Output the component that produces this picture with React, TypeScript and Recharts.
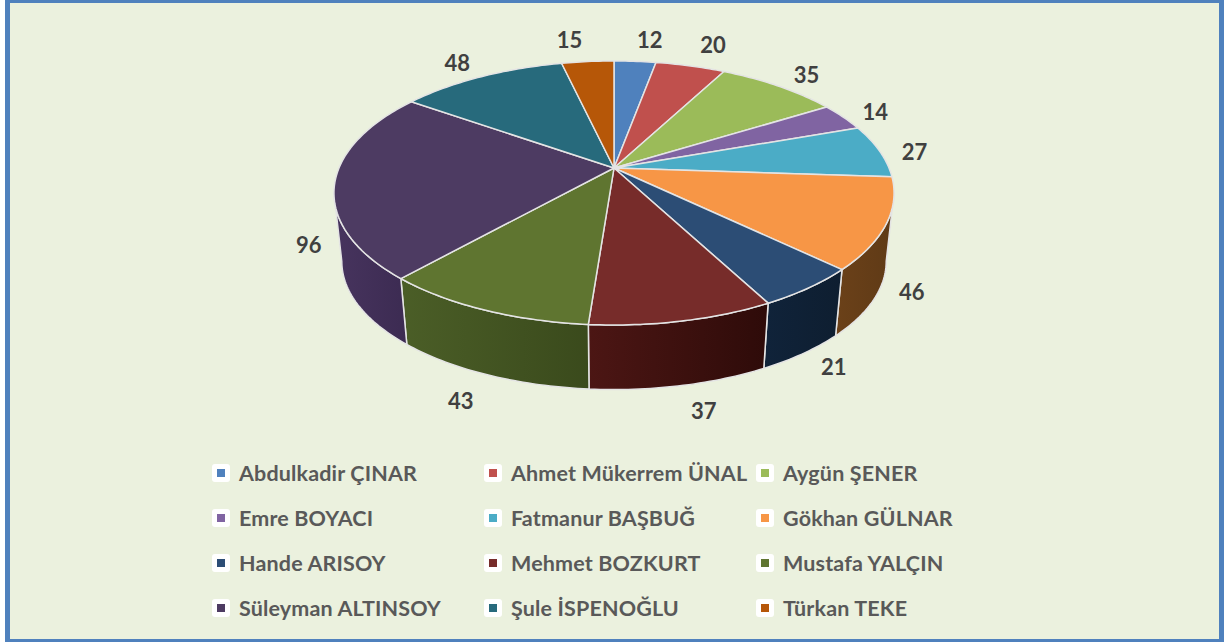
import { PieChart, Pie, Legend } from "recharts";

const names = [
  "Abdulkadir ÇINAR",
  "Ahmet Mükerrem ÜNAL",
  "Aygün ŞENER",
  "Emre BOYACI",
  "Fatmanur BAŞBUĞ",
  "Gökhan GÜLNAR",
  "Hande ARISOY",
  "Mehmet BOZKURT",
  "Mustafa YALÇIN",
  "Süleyman ALTINSOY",
  "Şule İSPENOĞLU",
  "Türkan TEKE",
];
const values = [12, 20, 35, 14, 27, 46, 21, 37, 43, 96, 48, 15];
const topColors = [
  "#4F81BD", "#C0504D", "#9BBB59", "#8064A2", "#4BACC6", "#F79646",
  "#2C4D75", "#772C2A", "#5F7530", "#4D3B62", "#276A7C", "#B65708",
];
const wallLeft = [
  "#2F4D71", "#73302E", "#5D7035", "#4D3C61", "#2D6777", "#6B4119",
  "#10233A", "#4C1614", "#4B5E27", "#47345E", "#174049", "#6D3405",
];
const wallRight = [
  "#2F4D71", "#73302E", "#5D7035", "#4D3C61", "#2D6777", "#5F3A16",
  "#0E1E30", "#2E0B09", "#3A4A1C", "#3C2B52", "#174049", "#6D3405",
];

const tableRows = names.map((name, i) => ({ name, value: values[i], fill: topColors[i] }));

// the pie is tilted: a flat circle goes through this projection to become the 3D top
const CX = 614;
const CY = 168;
const TILT = 0.189;
const SCALE_X = 275;
const SCALE_Y = 127.3;
const DEPTH = 69;
const BOTTOM_SHRINK = 0.972;

// hand nudges for the data labels, same order as names
const labelNudgeX = [-2, 1, -1, -1, 0, -1, 0, -2, 1, 1, 2, -1];
const labelNudgeY = [-2, -3, 3, 3, 2, -5, -5, 0, 3, -2, 2, -2];

const rad = (deg: number) => (deg * Math.PI) / 180;

function rim(clockDeg: number) {
  const u = Math.sin(rad(clockDeg));
  const v = -Math.cos(rad(clockDeg));
  const w = 1 - TILT * v;
  return { x: CX + (SCALE_X * u) / w, y: CY + (SCALE_Y * v) / w };
}

function lowerRim(clockDeg: number) {
  const p = rim(clockDeg);
  return {
    x: CX + (p.x - CX) * BOTTOM_SHRINK,
    y: CY + (p.y - CY) * BOTTOM_SHRINK + DEPTH,
  };
}

function arcPoints(from: number, to: number, fn: (d: number) => { x: number; y: number }) {
  const steps = Math.max(2, Math.ceil(Math.abs(to - from)));
  const out: string[] = [];
  for (let s = 0; s <= steps; s++) {
    const p = fn(from + ((to - from) * s) / steps);
    out.push(`${p.x.toFixed(2)} ${p.y.toFixed(2)}`);
  }
  return out;
}

const FRONT_FROM = (Math.acos(-TILT) * 180) / Math.PI;
const FRONT_TO = 360 - FRONT_FROM;

function Slice(props: any) {
  const { startAngle, endAngle, fill, name } = props;
  const i = names.indexOf(name ?? props.payload?.name);
  const from = 90 - startAngle;
  const to = 90 - endAngle;
  const wallFrom = Math.max(from, FRONT_FROM);
  const wallTo = Math.min(to, FRONT_TO);
  const top = arcPoints(from, to, rim);
  const edge = "#E4E4E4";
  let wall = null;
  if (wallTo > wallFrom) {
    const path =
      "M" + arcPoints(wallFrom, wallTo, rim).join("L") + "L" + arcPoints(wallTo, wallFrom, lowerRim).join("L") + "Z";
    wall = (
      <g>
        <defs>
          <linearGradient id={`wall-${i}`} x1="0" x2="1" y1="0" y2="0">
            <stop offset="0" stopColor={wallLeft[i]} />
            <stop offset="1" stopColor={wallRight[i]} />
          </linearGradient>
        </defs>
        <path d={path} fill={`url(#wall-${i})`} stroke={edge} strokeWidth={1.5} strokeLinejoin="round" />
      </g>
    );
  }
  return (
    <g>
      {wall}
      <path
        d={`M${CX} ${CY}L${top.join("L")}Z`}
        fill={fill}
        stroke={edge}
        strokeWidth={1.5}
        strokeLinejoin="round"
      />
    </g>
  );
}

function SliceLabel(props: any) {
  const clock = 90 - props.midAngle;
  const u = Math.sin(rad(clock));
  const v = -Math.cos(rad(clock));
  const p = rim(clock);
  const sign = u < 0 ? -1 : 1;
  const dx = v < 0 ? sign * (15 + 20 * Math.abs(u)) : sign * (22 + 5 * Math.abs(u));
  const dy = v < 0 ? 1 - 21 * Math.abs(v) : 60 + 30 * v;
  const i = values.indexOf(props.value);
  return (
    <text
      x={p.x + dx + labelNudgeX[i]}
      y={p.y + dy + labelNudgeY[i]}
      textAnchor="middle"
      dominantBaseline="central"
      fontFamily="Lato"
      fontWeight={700}
      fontSize={22}
      fill="#404040"
    >
      {props.value}
    </text>
  );
}

const legendCols = [212, 484, 756];
const legendRows = [473, 518, 563, 608];

function LegendBlock() {
  return (
    <div style={{ position: "absolute", left: 0, top: 0, width: 1229, height: 642 }}>
      {names.map((name, i) => {
        const left = legendCols[i % 3];
        const mid = legendRows[Math.floor(i / 3)];
        return (
          <div key={name}>
            <div
              style={{
                position: "absolute",
                left,
                top: mid - 9,
                width: 18,
                height: 18,
                background: "#FFFFFF",
                borderRadius: 3,
              }}
            >
              <div style={{ position: "absolute", left: 5, top: 5, width: 8, height: 8, background: topColors[i] }} />
            </div>
            <div
              style={{
                position: "absolute",
                left: left + 27,
                top: mid - 14,
                height: 28,
                lineHeight: "28px",
                whiteSpace: "nowrap",
                fontFamily: "Lato",
                fontWeight: 700,
                fontSize: 21.5,
                letterSpacing: 0.15,
                color: "#595959",
              }}
            >
              {name}
            </div>
          </div>
        );
      })}
    </div>
  );
}

export default function App() {
  return (
    <div style={{ position: "fixed", left: 0, top: 0, width: 1229, height: 642, background: "#FFFFFF", overflow: "hidden" }}>
      <div
        style={{
          position: "absolute",
          left: 5,
          top: 0,
          width: 1219,
          height: 642,
          boxSizing: "border-box",
          borderStyle: "solid",
          borderColor: "#4F81BD",
          borderWidth: "3px 5px",
          background: "#EBF1DE",
        }}
      />
      <PieChart width={1229} height={642} style={{ position: "absolute", left: 0, top: 0 }}>
        <Pie
          data={tableRows}
          dataKey="value"
          nameKey="name"
          cx={CX}
          cy={CY}
          outerRadius={SCALE_X}
          startAngle={90}
          endAngle={-270}
          isAnimationActive={false}
          shape={Slice}
          label={SliceLabel}
          labelLine={false}
        />
        <Legend
          content={() => <LegendBlock />}
          wrapperStyle={{ position: "absolute", left: 0, top: 0, width: 1229, height: 642, pointerEvents: "none" }}
        />
      </PieChart>
    </div>
  );
}
